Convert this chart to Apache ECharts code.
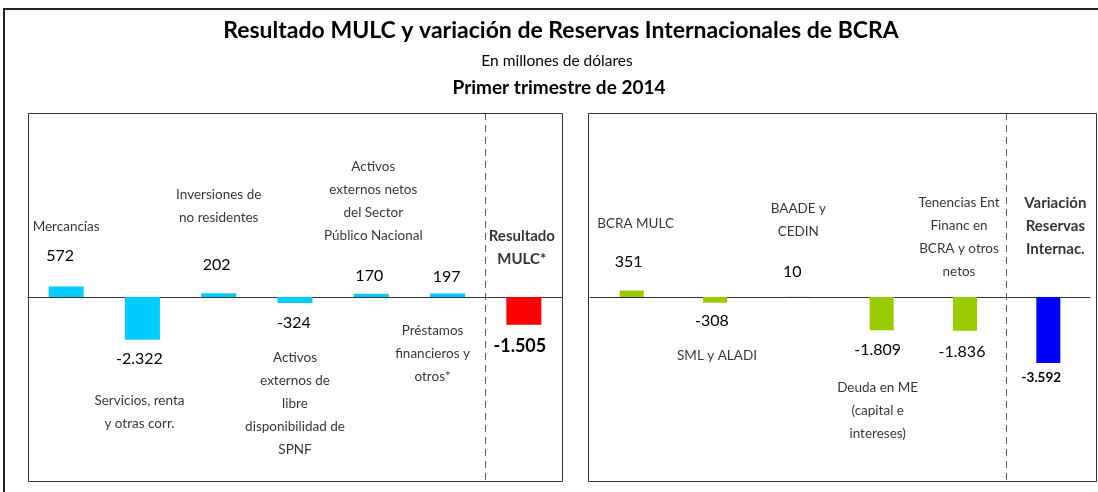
<!doctype html>
<html lang="es">
  <head>
    <meta charset="UTF-8" />
    <title>Resultado MULC y variación de Reservas Internacionales de BCRA</title>
    <style>
      html,
      body {
        width: 100%;
        height: 100%;
        margin: 0;
        padding: 0;
        background: #fff;
      }
      #Echart {
        width: 1098px;
        height: 492px;
      }
    </style>
  </head>

  <body>
    <div id="Echart"></div>
    <script src="https://cdn.jsdelivr.net/npm/echarts@6/dist/echarts.min.js"></script>
    <script type="text/javascript">
      // panel izquierdo: resultado MULC
      const mulcNames = [
        'Mercancías',
        'Servicios, renta\ny otras corr.',
        'Inversiones de\nno residentes',
        'Activos\nexternos de\nlibre\ndisponibilidad de\nSPNF',
        'Activos\nexternos netos\ndel Sector\nPúblico Nacional',
        'Préstamos\nfinancieros y\notros*',
        'Resultado\nMULC*',
      ]
      const mulcValues = [572, -2322, 202, -324, 170, 197, -1505]

      // panel derecho: variación de reservas
      const resNames = [
        'BCRA MULC',
        'SML y ALADI',
        'BAADE y\nCEDIN',
        'Deuda en ME\n(capital e\nintereses)',
        'Tenencias Ent\nFinanc en\nBCRA y otros\nnetos',
        'Variación\nReservas\nInternac.',
      ]
      const resValues = [351, -308, 10, -1809, -1836, -3592]

      // ubicación de los textos: desplazamientos en px (nombre desde la línea de cero, valor desde la barra)
      const mulcNameOff = [[0, -70], [-3, 115], [0, -91], [0, 107], [2, -96], [-15, 57], [-2, -49]]
      const mulcValOff = [[-6, 23], [-3, 11], [-2, 20], [-1, 12], [-2, 10], [-1, 9], [-4, 12]]
      const resNameOff = [[4, -73], [2, 59], [0, -77], [-4, 114], [-6, -60], [7, -71]]
      const resValOff = [[-3, 21], [-3, 10], [-6, 17], [-4, 12], [-3, 13], [-7, 8]]

      const FONT = 'Lato'
      const fmt = (v) => (v < 0 ? '-' : '') + String(Math.abs(v)).replace(/\B(?=(\d{3})+(?!\d))/g, '.')

      function barData(values, offs, color, lastColor, lastBoldSize) {
        return values.map((v, i) => {
          const last = i === values.length - 1
          return {
            value: v,
            itemStyle: { color: last ? lastColor : color },
            label: {
              show: true,
              position: v >= 0 ? 'top' : 'bottom',
              distance: offs[i][1],
              offset: [offs[i][0], 0],
              formatter: fmt(v),
              fontFamily: FONT,
              fontSize: last ? lastBoldSize : 16,
              fontWeight: last ? 'bold' : 'normal',
              lineHeight: last ? lastBoldSize : 16,
              color: '#000',
            },
          }
        })
      }

      function nameData(names, offs) {
        return names.map((n, i) => {
          const last = i === names.length - 1
          return {
            value: [i, 0],
            label: {
              show: true,
              position: 'inside',
              offset: offs[i],
              formatter: n,
              fontFamily: FONT,
              fontSize: last ? 15 : 13.5,
              lineHeight: 23,
              fontWeight: last ? 'bold' : 'normal',
              color: '#000',
              align: 'center',
            },
          }
        })
      }

      function xAxisFor(gridIndex, names) {
        return {
          type: 'category',
          gridIndex,
          data: names.map((n, i) => i),
          boundaryGap: true,
          axisLabel: { show: false },
          axisTick: { show: false },
          axisLine: { show: true, onZero: true, lineStyle: { color: '#333', width: 1 } },
          splitLine: { show: false },
        }
      }

      function yAxisFor(gridIndex) {
        return {
          type: 'value',
          gridIndex,
          min: -10000,
          max: 10000,
          show: false,
          splitLine: { show: false },
        }
      }

      const frames = [
        {
          id: 'outer',
          type: 'rect',
          shape: { x: 4, y: 9, width: 1200, height: 600 },
          style: { fill: 'none', stroke: '#222', lineWidth: 2 },
          silent: true,
          z: -1,
        },
        {
          id: 'panelL',
          type: 'rect',
          shape: { x: 28.5, y: 113.5, width: 534, height: 368 },
          style: { fill: 'none', stroke: '#333', lineWidth: 1 },
          silent: true,
        },
        {
          id: 'panelR',
          type: 'rect',
          shape: { x: 588.5, y: 113.5, width: 508, height: 368 },
          style: { fill: 'none', stroke: '#333', lineWidth: 1 },
          silent: true,
        },
      ]

      const option = {
        animation: false,
        backgroundColor: '#fff',
        title: [
          {
            text: 'Resultado MULC y variación de Reservas Internacionales de BCRA',
            left: 556,
            top: 14,
            textAlign: 'center',
            textStyle: { fontFamily: FONT, fontSize: 23, fontWeight: 'bold', color: '#000' },
          },
          {
            text: 'En millones de dólares',
            left: 552,
            top: 48,
            textAlign: 'center',
            textStyle: { fontFamily: FONT, fontSize: 15.5, fontWeight: 'normal', color: '#000' },
          },
          {
            text: 'Primer trimestre de 2014',
            left: 554,
            top: 73,
            textAlign: 'center',
            textStyle: { fontFamily: FONT, fontSize: 19, fontWeight: 'bold', color: '#000' },
          },
        ],
        grid: [
          { left: 28, top: 113, width: 534, height: 368, containLabel: false },
          { left: 590, top: 113, width: 500, height: 368, containLabel: false },
        ],
        xAxis: [xAxisFor(0, mulcNames), xAxisFor(1, resNames)],
        yAxis: [yAxisFor(0), yAxisFor(1)],
        graphic: frames,
        series: [
          {
            type: 'bar',
            xAxisIndex: 0,
            yAxisIndex: 0,
            barWidth: 35,
            data: barData(mulcValues, mulcValOff, '#00CCFF', '#FF0000', 18),
          },
          {
            type: 'scatter',
            xAxisIndex: 0,
            yAxisIndex: 0,
            symbolSize: 1,
            itemStyle: { color: 'rgba(0,0,0,0)' },
            silent: true,
            data: nameData(mulcNames, mulcNameOff),
          },
          {
            type: 'bar',
            xAxisIndex: 1,
            yAxisIndex: 1,
            barWidth: 24,
            data: barData(resValues, resValOff, '#99CC00', '#0000FF', 13.5),
          },
          {
            type: 'scatter',
            xAxisIndex: 1,
            yAxisIndex: 1,
            symbolSize: 1,
            itemStyle: { color: 'rgba(0,0,0,0)' },
            silent: true,
            data: nameData(resNames, resNameOff),
          },
        ],
      }

      const chart = echarts.init(document.getElementById('Echart'))
      chart.setOption(option)

      // línea punteada antes de la última categoría de cada panel
      function dividerFor(axisIndex, count) {
        const a = chart.convertToPixel({ xAxisIndex: axisIndex }, count - 2)
        const b = chart.convertToPixel({ xAxisIndex: axisIndex }, count - 1)
        const x = Math.round((a + b) / 2) - 0.5
        const y1 = chart.convertToPixel({ yAxisIndex: axisIndex }, 10000)
        const y2 = chart.convertToPixel({ yAxisIndex: axisIndex }, -10000)
        return {
          id: 'div' + axisIndex,
          type: 'line',
          shape: { x1: x, y1: y1, x2: x, y2: y2 },
          style: { stroke: '#555', lineWidth: 1, lineDash: [7, 5] },
          silent: true,
        }
      }
      chart.setOption({
        graphic: frames.concat([dividerFor(0, mulcValues.length), dividerFor(1, resValues.length)]),
      })
    </script>
  </body>
</html>
